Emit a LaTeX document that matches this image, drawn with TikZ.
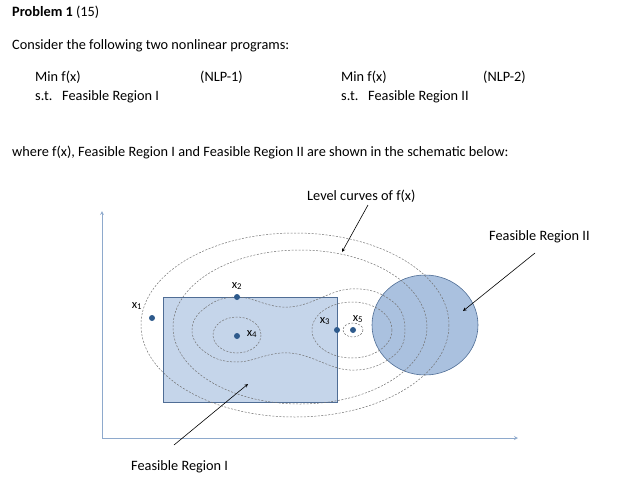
\documentclass[tikz,border=0pt]{standalone}
\usepackage{fontspec}
\setmainfont{Carlito}
\begin{document}
\begin{tikzpicture}[x=1pt,y=-1pt,
  txt/.style={anchor=west,inner sep=0pt,font=\fontsize{14.3}{16}\selectfont},
  lab/.style={inner sep=0pt,font=\fontsize{12.5}{14}\selectfont},
  lvl/.style={draw=black!55,dashed,dash pattern=on 2pt off 1.5pt,line width=0.5pt},
  dot/.style={circle,fill=dotc,inner sep=0pt,minimum size=6pt},
  arr/.style={->,>=stealth,line width=0.6pt}]
\definecolor{axisc}{HTML}{8EA9CC}
\definecolor{rectc}{HTML}{C5D5EA}
\definecolor{circc}{HTML}{AAC1DF}
\definecolor{edgec}{HTML}{4F6D95}
\definecolor{dotc}{HTML}{2E5A8C}
\useasboundingbox (0,0) rectangle (618,490);
\node[txt] (p) at (12,12) {\textbf{Problem 1} (15)};
\node[txt] (c) at (12,46) {Consider the following two nonlinear programs:};
\node[txt] (m1) at (35,77) {Min f(x)};
\node[txt] (n1) at (200,77) {(NLP-1)};
\node[txt] (m2) at (341,77) {Min f(x)};
\node[txt] (n2) at (483,77) {(NLP-2)};
\node[txt] (s1) at (35,97) {s.t.\ \ \ Feasible Region I};
\node[txt] (s2) at (341,97) {s.t.\ \ \ Feasible Region II};
\node[txt] (w) at (12,152) {where f(x), Feasible Region I and Feasible Region II are shown in the schematic below:};
% axes
\coordinate (o) at (102,438);
\coordinate (ya) at (102,211);
\coordinate (xa) at (518,438);
\draw[axisc,line width=0.8pt,->,>=stealth] (o) -- (ya);
\draw[axisc,line width=0.8pt,->,>=stealth] (o) -- (xa);
% regions
\draw[edgec,fill=rectc,line width=0.6pt] (163,297) rectangle (337,402);
\draw[edgec,fill=circc,line width=0.6pt] (425,325) ellipse [x radius=53,y radius=50];
% level curves
\draw[lvl] (295,325) ellipse [x radius=154,y radius=92];
\draw[lvl] (300,327) ellipse [x radius=127,y radius=77];
\draw[lvl] plot[smooth cycle,tension=0.7] coordinates {(237,297) (205,308) (192,330) (205,352) (237,362) (290,353) (350,370) (392,357) (405,330) (392,301) (350,289) (290,307)};
\draw[lvl] (237,335) ellipse [x radius=24,y radius=18];
\draw[lvl] (352,330) ellipse [x radius=40,y radius=28];
\draw[lvl] (353,330) ellipse [x radius=10,y radius=7];
% points
\node[dot] (x1) at (152,318) {};
\node[dot] (x2) at (237,297) {};
\node[dot] (x3) at (337,330) {};
\node[dot] (x4) at (237,336) {};
\node[dot] (x5) at (353,330) {};
\node[lab] (l1) at (137,306) {x\textsubscript{1}};
\node[lab] (l2) at (237,286) {x\textsubscript{2}};
\node[lab] (l3) at (325,321) {x\textsubscript{3}};
\node[lab] (l4) at (252,334) {x\textsubscript{4}};
\node[lab] (l5) at (358,319) {x\textsubscript{5}};
% labels & arrows
\node[txt] (lc) at (307,196) {Level curves of f(x)};
\node[txt] (f2) at (489,237) {Feasible Region II};
\node[txt] (f1) at (131,467) {Feasible Region I};
\coordinate (a1) at (342,252);
\coordinate (a2) at (463,311);
\coordinate (a3) at (248,384);
\draw[arr] (368,205) -- (a1);
\draw[arr] (535,253) -- (a2);
\draw[arr] (174,445) -- (a3);
\end{tikzpicture}
\end{document}
